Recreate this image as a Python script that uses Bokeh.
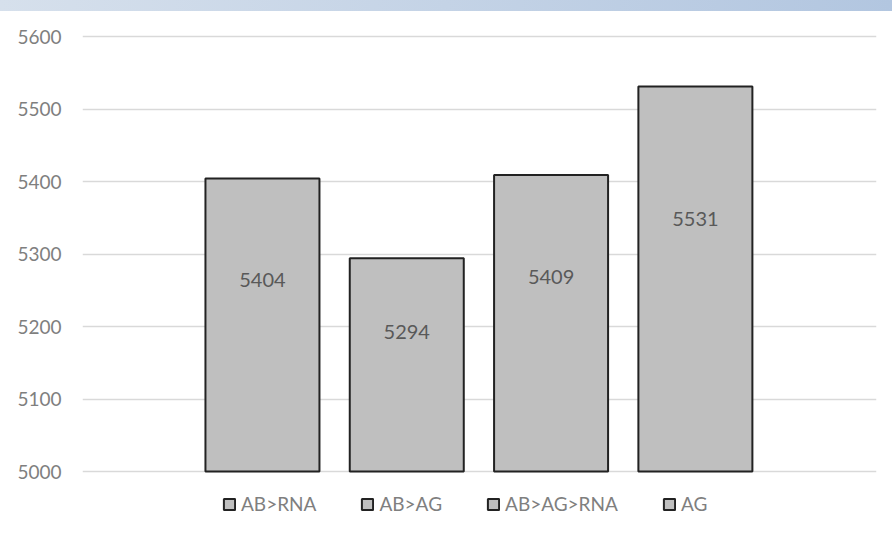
from bokeh.plotting import figure
from bokeh.models import (ColumnDataSource, FixedTicker, Range1d, Legend, LegendItem, Div)
from bokeh.layouts import column
from bokeh.core.properties import value
from bokeh.embed import file_html
from bokeh.resources import INLINE

# data
series_names = ["AB>RNA", "AB>AG", "AB>AG>RNA", "AG"]
series_values = [5404, 5294, 5409, 5531]
y_ticks = [5000, 5100, 5200, 5300, 5400, 5500, 5600]

base = 5000
FONT = "Lato"

strip = Div(text="", width=892, height=11, margin=0,
            styles={"background": "linear-gradient(to right, #d6e0ec, #b2c6e0)"})

p = figure(width=892, height=536, output_backend="svg", toolbar_location=None,
           x_range=Range1d(-1.247, 4.255), y_range=Range1d(4895.2, 5634.5),
           min_border_left=82, min_border_right=16, min_border_top=0, min_border_bottom=0,
           background_fill_color="white", border_fill_color="white")
p.outline_line_color = None
p.xaxis.visible = False
p.xgrid.visible = False

p.yaxis.ticker = FixedTicker(ticks=y_ticks)
p.yaxis.axis_line_color = None
p.yaxis.major_tick_line_color = None
p.yaxis.minor_tick_line_color = None
p.yaxis.major_tick_out = 0
p.yaxis.major_tick_in = 0
p.yaxis.major_label_standoff = 21
p.yaxis.major_label_text_font = FONT
p.yaxis.major_label_text_font_size = "19px"
p.yaxis.major_label_text_color = "#7f7f7f"
p.ygrid.grid_line_color = "#d9d9d9"
p.ygrid.grid_line_width = 1.5

items = []
for i, (name, v) in enumerate(zip(series_names, series_values)):
    src = ColumnDataSource(dict(x=[i], top=[v], bottom=[base]))
    r = p.vbar(x="x", top="top", bottom="bottom", width=0.79, source=src,
               fill_color="#bfbfbf", line_color="#222222", line_width=2)
    items.append(LegendItem(label=name, renderers=[r]))

lab_src = ColumnDataSource(dict(
    x=list(range(len(series_values))),
    y=[base + (v - base) * 0.655 for v in series_values],
    t=[str(v) for v in series_values]))
p.text(x="x", y="y", text="t", source=lab_src, text_align="center",
       text_baseline="middle", text_font=value(FONT), text_font_size="20px",
       text_color="#595959")

legend = Legend(items=items, orientation="horizontal", location=(140, 32),
                glyph_width=14, glyph_height=14, label_standoff=5, spacing=44,
                padding=0, margin=0, border_line_color=None,
                background_fill_alpha=0, label_text_font=FONT,
                label_text_font_size="19px", label_text_color="#7f7f7f",
                label_height=20)
p.add_layout(legend, "center")

layout = column(strip, p, spacing=0)
open("out.html", "w").write(file_html(layout, INLINE))
